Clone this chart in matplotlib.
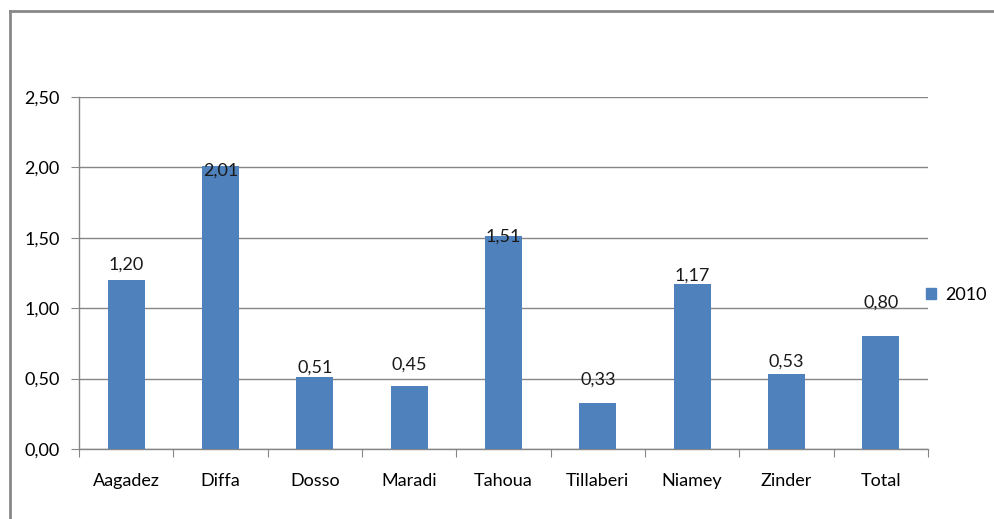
import matplotlib
matplotlib.use("Agg")
import matplotlib.pyplot as plt
from matplotlib.lines import Line2D
from matplotlib.patches import Patch
import numpy as np

regions = ["Aagadez", "Diffa", "Dosso", "Maradi", "Tahoua", "Tillaberi", "Niamey", "Zinder", "Total"]
values_2010 = [1.20, 2.01, 0.51, 0.45, 1.51, 0.33, 1.17, 0.53, 0.80]
yticks = [0.0, 0.5, 1.0, 1.5, 2.0, 2.5]
# where the data labels sit (value units), as placed in the original
label_y = [1.31, 1.98, 0.58, 0.60, 1.51, 0.49, 1.23, 0.62, 1.04]

plt.rcParams['font.family'] = ['Lato', 'DejaVu Sans']
bar_color = "#4F81BD"
grid_color = "#868686"
fs = 13

fig = plt.figure(figsize=(9.94, 5.19), dpi=100)
ax = fig.add_axes([79 / 994, 1 - 449 / 519, (928 - 79) / 994, (449 - 97) / 519])

x = np.arange(len(regions))
ax.bar(x, values_2010, width=0.39, color=bar_color, zorder=3)

for xi, v, ly in zip(x, values_2010, label_y):
    ax.text(xi, ly, f"{v:.2f}".replace(".", ","), ha="center", va="center",
            fontsize=fs, color="#1a1a1a", zorder=4)

ax.set_xlim(-0.5, len(regions) - 0.5)
ax.set_ylim(0, 2.5)
ax.set_yticks(yticks)
ax.set_yticklabels([f"{t:.2f}".replace(".", ",") for t in yticks])
ax.yaxis.grid(True, color=grid_color, linewidth=1, zorder=0)

# category ticks sit between bars
ax.set_xticks(np.arange(len(regions) + 1) - 0.5)
ax.set_xticklabels([])
ax.set_xticks(x, minor=True)
ax.set_xticklabels(regions, minor=True)
ax.tick_params(axis="x", which="major", length=6, color=grid_color)
ax.tick_params(axis="x", which="minor", length=0, pad=17, labelsize=fs)
ax.tick_params(axis="y", length=6, color=grid_color, pad=8, labelsize=fs)

for side in ["top", "right"]:
    ax.spines[side].set_visible(False)
for side in ["left", "bottom"]:
    ax.spines[side].set_color(grid_color)
    ax.spines[side].set_linewidth(1)

handles = [Patch(color=bar_color, label="2010")]
fig.legend(handles=handles, loc="center left", bbox_to_anchor=(926 / 994, 1 - 295 / 519),
           frameon=False, fontsize=fs, borderpad=0, borderaxespad=0,
           handlelength=0.55, handleheight=0.55, handletextpad=0.5)

# outer chart frame (only top and left edges show in the original)
fig.add_artist(Line2D([10 / 994, 10 / 994], [0, 1 - 11 / 519], transform=fig.transFigure,
                      color="#888888", linewidth=2))
fig.add_artist(Line2D([10 / 994, 1], [1 - 11 / 519, 1 - 11 / 519], transform=fig.transFigure,
                      color="#888888", linewidth=2))

fig.savefig("out.png", dpi=100)
